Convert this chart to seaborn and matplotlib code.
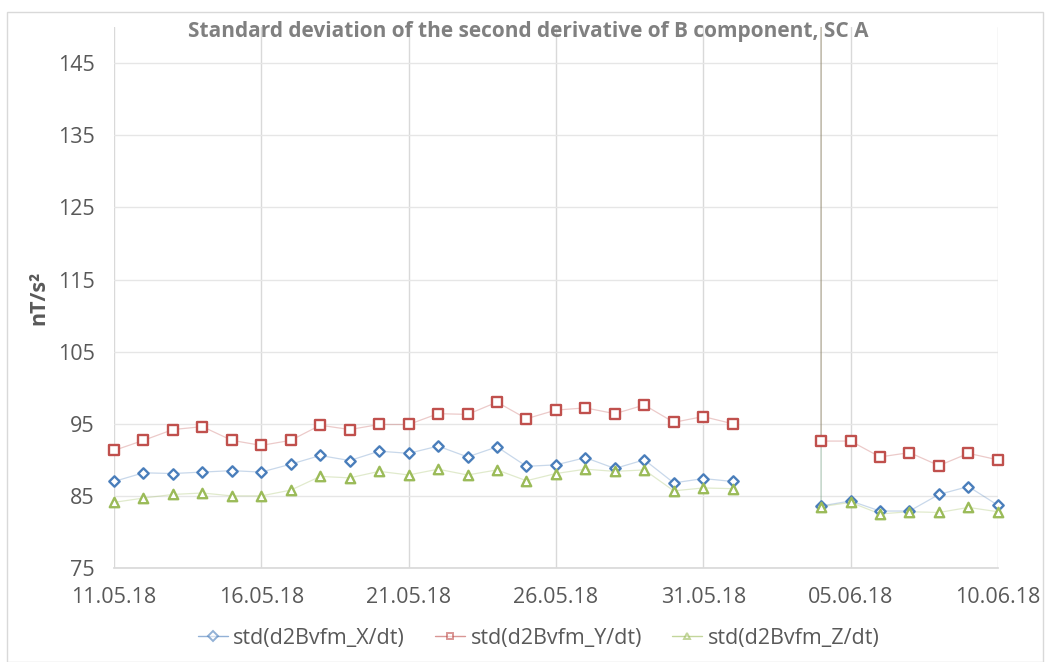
import matplotlib
matplotlib.use("Agg")
import matplotlib.pyplot as plt
import matplotlib.dates as mdates
from matplotlib.lines import Line2D
from matplotlib.patches import Rectangle
import pandas as pd
import seaborn as sns

# dates with data (gap on 02.06 and 03.06)
dates_part1 = pd.date_range("2018-05-11", "2018-06-01", freq="D")
dates_part2 = pd.date_range("2018-06-04", "2018-06-10", freq="D")

x_part1 = [87.0, 88.2, 88.1, 88.3, 88.5, 88.3, 89.4, 90.6, 89.9, 91.2, 90.9,
           91.9, 90.4, 91.8, 89.1, 89.3, 90.3, 88.8, 90.0, 86.8, 87.4, 87.0]
y_part1 = [91.3, 92.7, 94.2, 94.6, 92.7, 92.0, 92.7, 94.8, 94.2, 94.9, 94.9,
           96.4, 96.3, 98.0, 95.7, 96.9, 97.2, 96.4, 97.6, 95.2, 96.0, 95.0]
z_part1 = [84.1, 84.7, 85.2, 85.4, 85.0, 85.0, 85.8, 87.7, 87.5, 88.4, 87.9,
           88.7, 87.9, 88.6, 87.1, 88.1, 88.7, 88.4, 88.6, 85.7, 86.1, 86.0]

x_part2 = [83.6, 84.3, 82.9, 82.9, 85.2, 86.3, 83.7]
y_part2 = [92.6, 92.6, 90.4, 91.0, 89.2, 90.9, 90.0]
z_part2 = [83.5, 84.1, 82.5, 82.8, 82.7, 83.4, 82.8]

# off-scale spike recorded at the start of 04.06
spike_date = pd.Timestamp("2018-06-04")
spike_value = 400.0

labels = ["std(d2Bvfm_X/dt)", "std(d2Bvfm_Y/dt)", "std(d2Bvfm_Z/dt)"]
edge_colors = ["#4a7ebb", "#c0504d", "#9bbb59"]
markers = ["D", "s", "^"]
marker_sizes = [28, 46, 46]

sns.set_theme(style="white")
plt.rcParams["font.family"] = ["Open Sans", "DejaVu Sans"]

fig = plt.figure(figsize=(10.46, 6.62), dpi=100)
ax = fig.add_axes([0.109, 0.142, 0.845, 0.817])

series = [(x_part1, x_part2), (y_part1, y_part2), (z_part1, z_part2)]
for (p1, p2), lab, ec, mk, ms in zip(series, labels, edge_colors,
                                     markers, marker_sizes):
    df = pd.DataFrame({
        "date": list(dates_part1) + [spike_date] + list(dates_part2),
        "value": p1 + [spike_value] + p2,
        "segment": [1] * len(p1) + [2] * (len(p2) + 1),
    })
    sns.lineplot(data=df, x="date", y="value", units="segment", estimator=None,
                 sort=False, color=ec, linewidth=0.9, alpha=0.3, ax=ax)
    pts = pd.DataFrame({"date": list(dates_part1) + list(dates_part2),
                        "value": p1 + p2})
    sns.scatterplot(data=pts, x="date", y="value", marker=mk, s=ms,
                    facecolor="white", edgecolor=ec, linewidth=1.7, ax=ax,
                    zorder=3, clip_on=False)

ax.set_xlim(pd.Timestamp("2018-05-11"), pd.Timestamp("2018-06-10"))
ax.set_ylim(75, 150)
ax.set_yticks(range(75, 150, 10))
ax.set_xticks(pd.date_range("2018-05-11", "2018-06-10", freq="5D"))
ax.xaxis.set_major_formatter(mdates.DateFormatter("%d.%m.%y"))

ax.grid(True, axis="y", color="#e6e6e6", linewidth=1.0)
ax.grid(True, axis="x", color="#d9d9d9", linewidth=1.0)
ax.set_axisbelow(True)
for side in ["left", "right", "top"]:
    ax.spines[side].set_visible(False)
ax.spines["bottom"].set_color("#d9d9d9")

ax.tick_params(axis="both", length=0, labelsize=15.5, labelcolor="#595959")
ax.tick_params(axis="y", pad=14)
ax.tick_params(axis="x", pad=14)

ax.set_xlabel("")
ax.set_ylabel("nT/s²", fontsize=15.5, fontweight="bold", color="#595959",
              labelpad=6)
fig.suptitle("Standard deviation of the second derivative of B component, SC A",
             x=0.505, y=0.953, fontsize=15, fontweight="bold", color="#808080",
             va="center")

handles = [Line2D([0], [0], color=ec, alpha=0.6, marker=mk, markersize=5,
                  markerfacecolor="white", markeredgecolor=ec,
                  markeredgewidth=1.4, linewidth=1)
           for mk, ec in zip(markers, edge_colors)]
fig.legend(handles=handles, labels=labels, loc="center",
           bbox_to_anchor=(0.515, 0.036), ncol=3, frameon=False, fontsize=15.5,
           labelcolor="#595959", handlelength=1.4, handletextpad=0.25,
           columnspacing=1.4)

fig.patches.append(Rectangle((0.007, 0.0), 0.99, 0.982, transform=fig.transFigure,
                             fill=False, edgecolor="#d9d9d9", linewidth=1))

fig.savefig("out.png", dpi=100)
